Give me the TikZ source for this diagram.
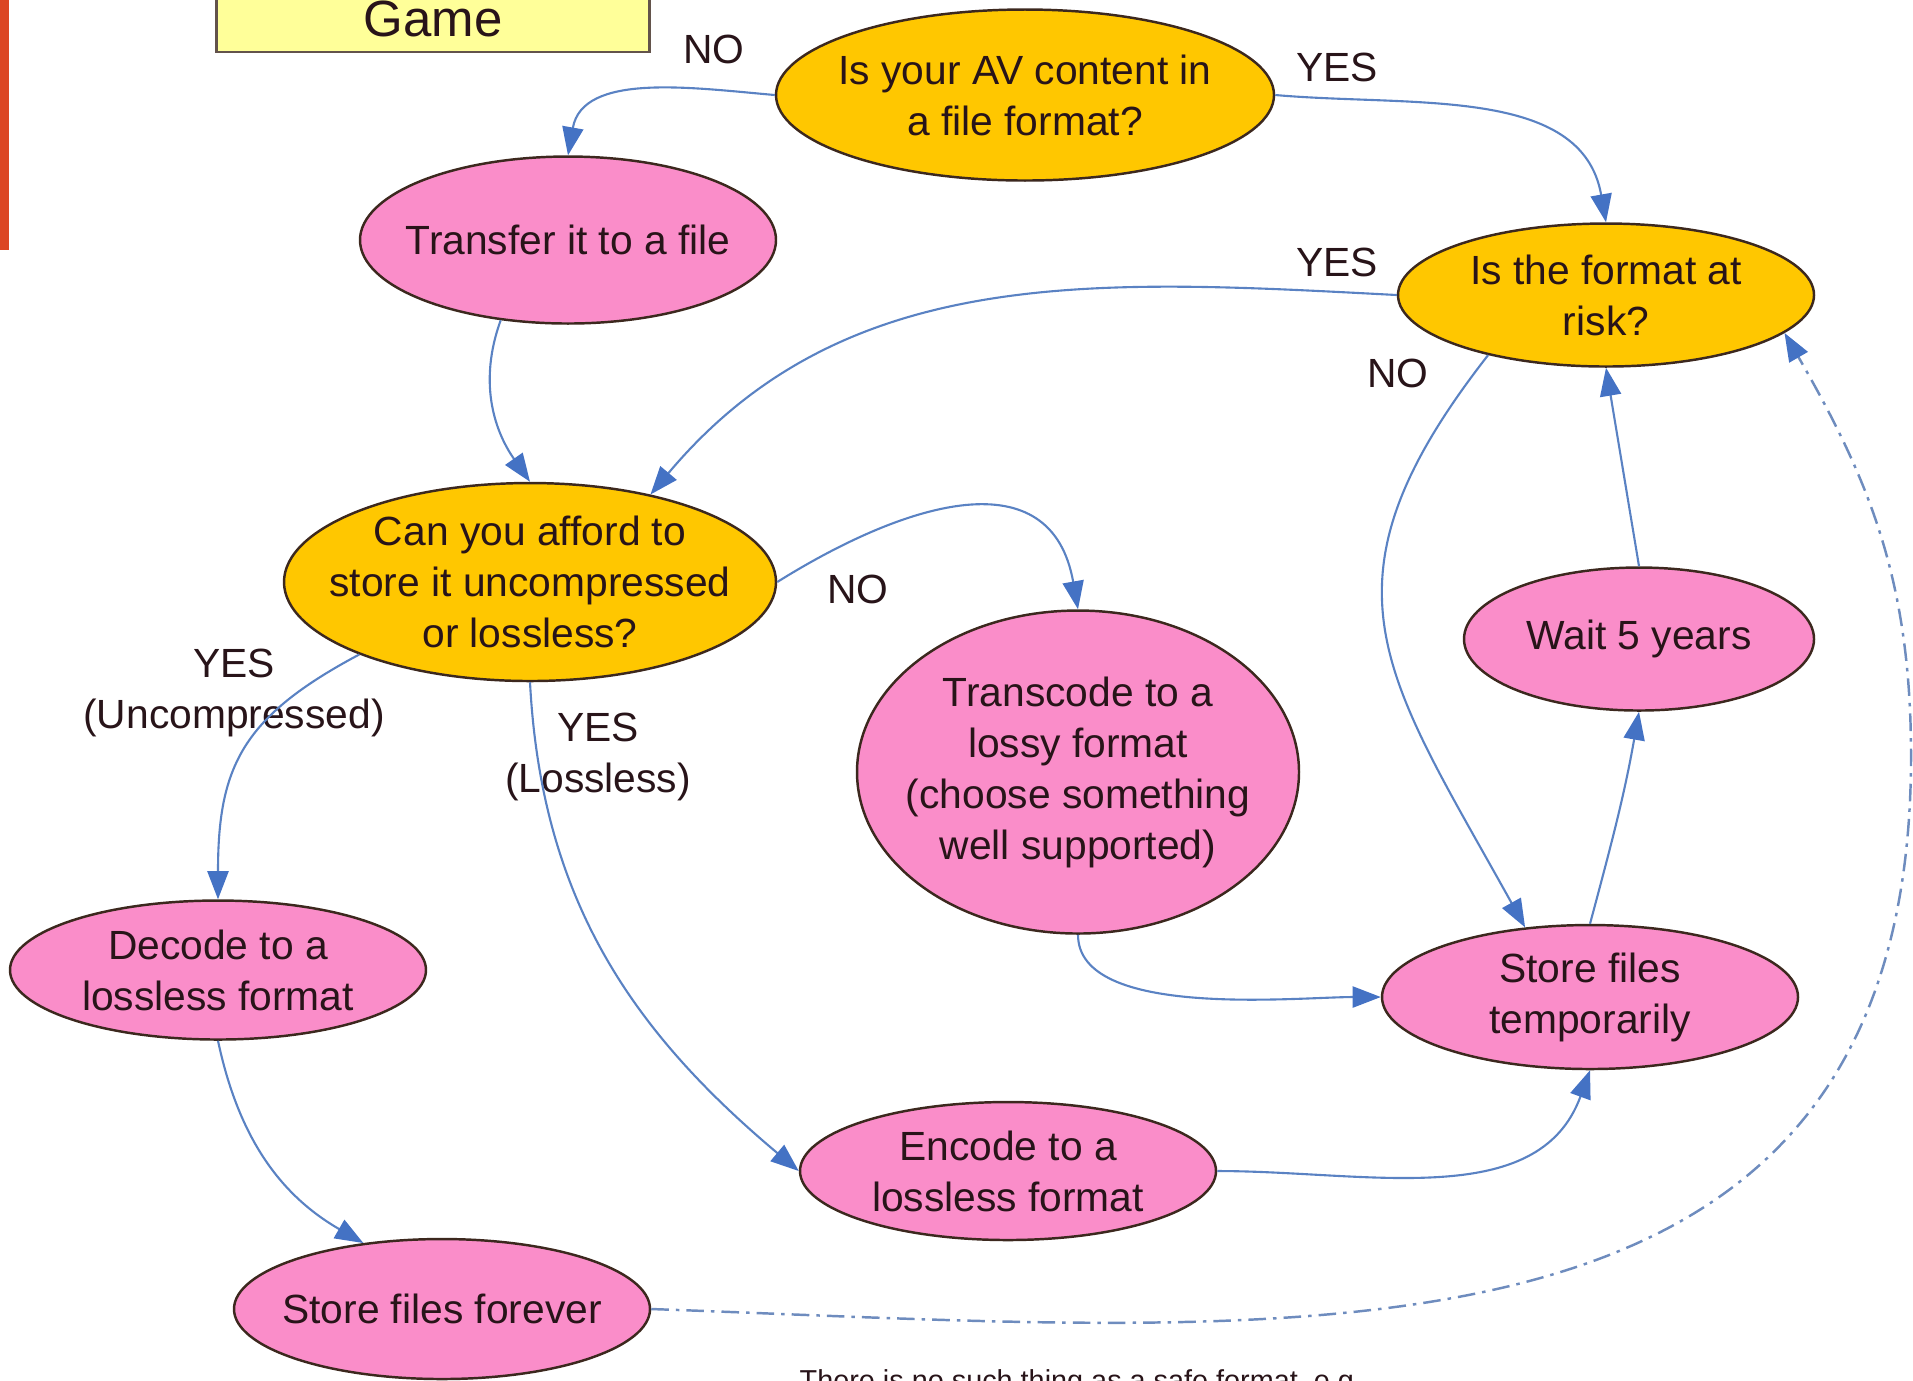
\documentclass[tikz,border=0pt]{standalone}
\usepackage{fontspec}
\setmainfont{Liberation Sans}
\usetikzlibrary{arrows.meta,shapes.geometric,positioning}

\definecolor{gold}{RGB}{255,199,0}
\definecolor{blush}{RGB}{250,141,201}
\definecolor{rim}{RGB}{60,40,30}
\definecolor{ink}{RGB}{40,20,25}
\definecolor{linkblue}{RGB}{90,130,195}
\definecolor{tipblue}{RGB}{68,114,196}
\definecolor{dashblue}{RGB}{110,140,190}
\definecolor{paleyellow}{RGB}{255,255,153}
\definecolor{slidered}{RGB}{220,70,35}

\begin{document}
\begin{tikzpicture}[x=0.1mm, y=0.1mm, >={Triangle[length=8pt, width=6pt, color=tipblue]}]
\tikzstyle{question}=[ellipse, draw=rim, fill=gold, line width=0.7pt, text=ink, align=center, inner xsep=-10pt, inner ysep=-6pt, font=\fontsize{11.6}{14.5}\selectfont];
\tikzstyle{action}=[question, fill=blush];
\tikzstyle{answer}=[text=ink, align=center, inner sep=0pt, font=\fontsize{11.6}{14.5}\selectfont];
\tikzstyle{flow}=[linkblue, line width=0.6pt];
\tikzstyle{recheck}=[dashblue, line width=0.7pt, dash pattern=on 5pt off 2pt on 1pt off 2pt];

\useasboundingbox (0,0) rectangle (1913,-1380);

% slide decoration, cut by the page
\fill[slidered] (0,0) rectangle (9,-250);
\node[draw=rim!80, fill=paleyellow, line width=0.8pt, minimum width=4.33cm, minimum height=0.66cm, inner sep=0pt, text=ink, font=\fontsize{14.5}{16}\selectfont] (game) at (433,-19) {Game};

\node[question, minimum width=4.98cm, minimum height=1.71cm] (av) at (1025,-95) {Is your AV content in\\a file format?};
\node[action, minimum width=4.16cm, minimum height=1.67cm] (transfer) at (568,-240) {Transfer it to a file};
\node[question, minimum width=4.16cm, minimum height=1.43cm] (fmt) at (1606,-295) {Is the format at\\risk?};
\node[question, minimum width=4.92cm, minimum height=1.98cm] (afford) at (530,-582) {Can you afford to\\store it uncompressed\\or lossless?};
\node[action, minimum width=4.42cm, minimum height=3.23cm] (transcode) at (1078,-772) {Transcode to a\\lossy format\\(choose something\\well supported)};
\node[action, minimum width=3.50cm, minimum height=1.43cm] (wait) at (1639,-639) {Wait 5 years};
\node[action, minimum width=4.16cm, minimum height=1.44cm] (tmp) at (1590,-997) {Store files\\temporarily};
\node[action, minimum width=4.16cm, minimum height=1.39cm] (decode) at (218,-970) {Decode to a\\lossless format};
\node[action, minimum width=4.16cm, minimum height=1.38cm] (encode) at (1008,-1171) {Encode to a\\lossless format};
\node[action, minimum width=4.16cm, minimum height=1.40cm] (forever) at (442,-1309) {Store files forever};

\node[answer] (no1) at (714,-49) {NO};
\node[answer] (yes1) at (1337,-67) {YES};
\node[answer] (yes2) at (1337,-262) {YES};
\node[answer] (no2) at (1398,-373) {NO};
\node[answer] (no3) at (858,-589) {NO};
\node[answer] (yesunc) at (234,-693) {YES\\(Uncompressed)};
\node[answer] (yeslos) at (598,-757) {YES\\(Lossless)};

\node[anchor=base west, inner sep=0pt, text=ink, font=\fontsize{8.2}{10}\selectfont] (note) at (799,-1390) {There is no such thing as a safe format, e.g.};

\coordinate (farright) at (1911,-756);

\draw[->, flow] (av.west) to[out=175, in=80] (transfer.north);
\draw[->, flow] (av.east) to[out=-5, in=100] (fmt.north);
\draw[->, flow] (transfer.230) to[out=250, in=125] (afford.north);
\draw[->, flow] (fmt.west) to[out=177, in=50] (afford.36);
\draw[->, flow] (fmt.207) to[out=232, in=119, looseness=1.3] (tmp.133);
\draw[->, flow] (tmp.north) to[out=75, in=-100] (wait.south);
\draw[->, flow] (wait.north) -- (fmt.south);
\draw[->, flow] (afford.east) to[out=32, in=100, looseness=1.3] (transcode.north);
\draw[->, flow] (afford.203) to[out=208, in=90, looseness=1.2] (decode.north);
\draw[->, flow] (afford.south) to[out=-87, in=140] (encode.west);
\draw[->, flow] (transcode.south) to[out=-90, in=180, looseness=0.7] (tmp.west);
\draw[->, flow] (encode.east) to[out=0, in=-110] (tmp.south);
\draw[->, flow] (decode.south) to[out=-78, in=150] (forever.140);
\draw[->, recheck] (forever.east) to[out=-2, in=-90, looseness=1.2] (farright) to[out=90, in=-60] (fmt.-12);
\end{tikzpicture}
\end{document}
